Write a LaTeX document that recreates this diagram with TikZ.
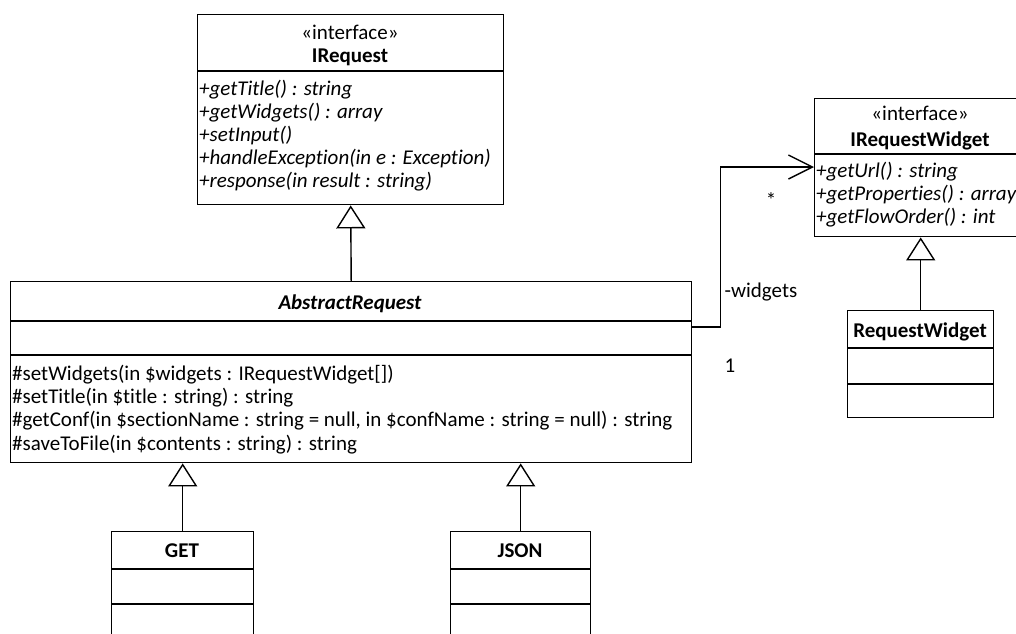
\documentclass[tikz,border=0pt]{standalone}
\usepackage{fontspec}
\setmainfont{Carlito}[Ligatures=NoCommon]
\usetikzlibrary{arrows.meta}
\begin{document}
\begin{tikzpicture}[x=1pt,y=-1pt,
  every node/.style={font=\fontsize{21}{24}\selectfont, inner sep=0pt},
  box/.style={draw, line width=1.4pt, anchor=north west, inner sep=0pt},
  sep/.style={line width=1.4pt},
  member/.style={anchor=base west},
  op/.style={anchor=base west, font=\fontsize{21}{24}\selectfont\itshape},
  title/.style={anchor=base, font=\fontsize{21}{24}\selectfont\bfseries},
  stereo/.style={anchor=base},
  lbl/.style={anchor=base},
  inherit/.style={line width=1.4pt, -{Triangle[open,length=23pt,width=29pt]}},
  assoc/.style={line width=1.4pt, -{Straight Barb[length=24pt,width=24pt]}}]
\useasboundingbox (0,0) rectangle (1016,633);
\clip (0,0) rectangle (1016,633);

% IRequest interface
\node[box, minimum width=306pt, minimum height=190pt] (ireq) at (197,14) {};
\draw[sep] (197,71) -- (503,71);
\node[stereo] (ireqst) at (350,39) {«interface»};
\node[title] (ireqt) at (350,62) {IRequest};
\node[op] (ir1) at (199,95) {+getTitle() : string};
\node[op] (ir2) at (199,118) {+getWidgets() : array};
\node[op] (ir3) at (199,141) {+setInput()};
\node[op] (ir4) at (199,164) {+handleException(in e : Exception)};
\node[op] (ir5) at (199,187) {+response(in result : string)};

% IRequestWidget interface
\node[box, minimum width=212pt, minimum height=138pt] (iwid) at (814,98) {};
\draw[sep] (814,154) -- (1026,154);
\node[stereo] (iwidst) at (920,120) {«interface»};
\node[title] (iwidt) at (920,146) {IRequestWidget};
\node[op] (iw1) at (816,177) {+getUrl() : string};
\node[op] (iw2) at (816,200) {+getProperties() : array};
\node[op] (iw3) at (816,223) {+getFlowOrder() : int};

% RequestWidget class
\node[box, minimum width=146pt, minimum height=107pt] (rw) at (847,310) {};
\draw[sep] (847,348) -- (993,348);
\draw[sep] (847,384) -- (993,384);
\node[title] (rwt) at (920,337) {RequestWidget};

% AbstractRequest class
\node[box, minimum width=681pt, minimum height=181pt] (absreq) at (10,281) {};
\draw[sep] (10,321) -- (691,321);
\draw[sep] (10,355) -- (691,355);
\node[title, font=\fontsize{21}{24}\selectfont\bfseries\itshape] (abst) at (350,309) {AbstractRequest};
\node[member] (ab1) at (12,380) {\#setWidgets(in \$widgets : IRequestWidget[])};
\node[member] (ab2) at (12,403) {\#setTitle(in \$title : string) : string};
\node[member] (ab3) at (12,426) {\#getConf(in \$sectionName : string = null, in \$confName : string = null) : string};
\node[member] (ab4) at (12,450) {\#saveToFile(in \$contents : string) : string};

% GET and JSON classes
\node[box, minimum width=142pt, minimum height=120pt] (get) at (111,531) {};
\draw[sep] (111,569) -- (253,569);
\draw[sep] (111,604) -- (253,604);
\node[title] (gett) at (182,557) {GET};
\node[box, minimum width=140pt, minimum height=120pt] (json) at (450,531) {};
\draw[sep] (450,569) -- (590,569);
\draw[sep] (450,604) -- (590,604);
\node[title] (jsont) at (520,557) {JSON};

% generalisations
\draw[inherit] (absreq.north) -- (ireq.south);
\draw[inherit] (rw.north) -- (iwid.south);
\draw[inherit] (get.north) -- (get.north |- absreq.south);
\draw[inherit] (json.north) -- (json.north |- absreq.south);

% association to the widgets
\coordinate (assocS) at ([yshift=-46pt]absreq.north east);
\coordinate (assocE) at ([yshift=-69pt]iwid.north west);
\draw[assoc] (assocS) -- ++(28,0) |- (assocE);
\node[lbl] (mstar) at (771,207) {*};
\node[lbl] (mname) at (761,297) {-widgets};
\node[lbl] (mone) at (730,372) {1};
\end{tikzpicture}
\end{document}
